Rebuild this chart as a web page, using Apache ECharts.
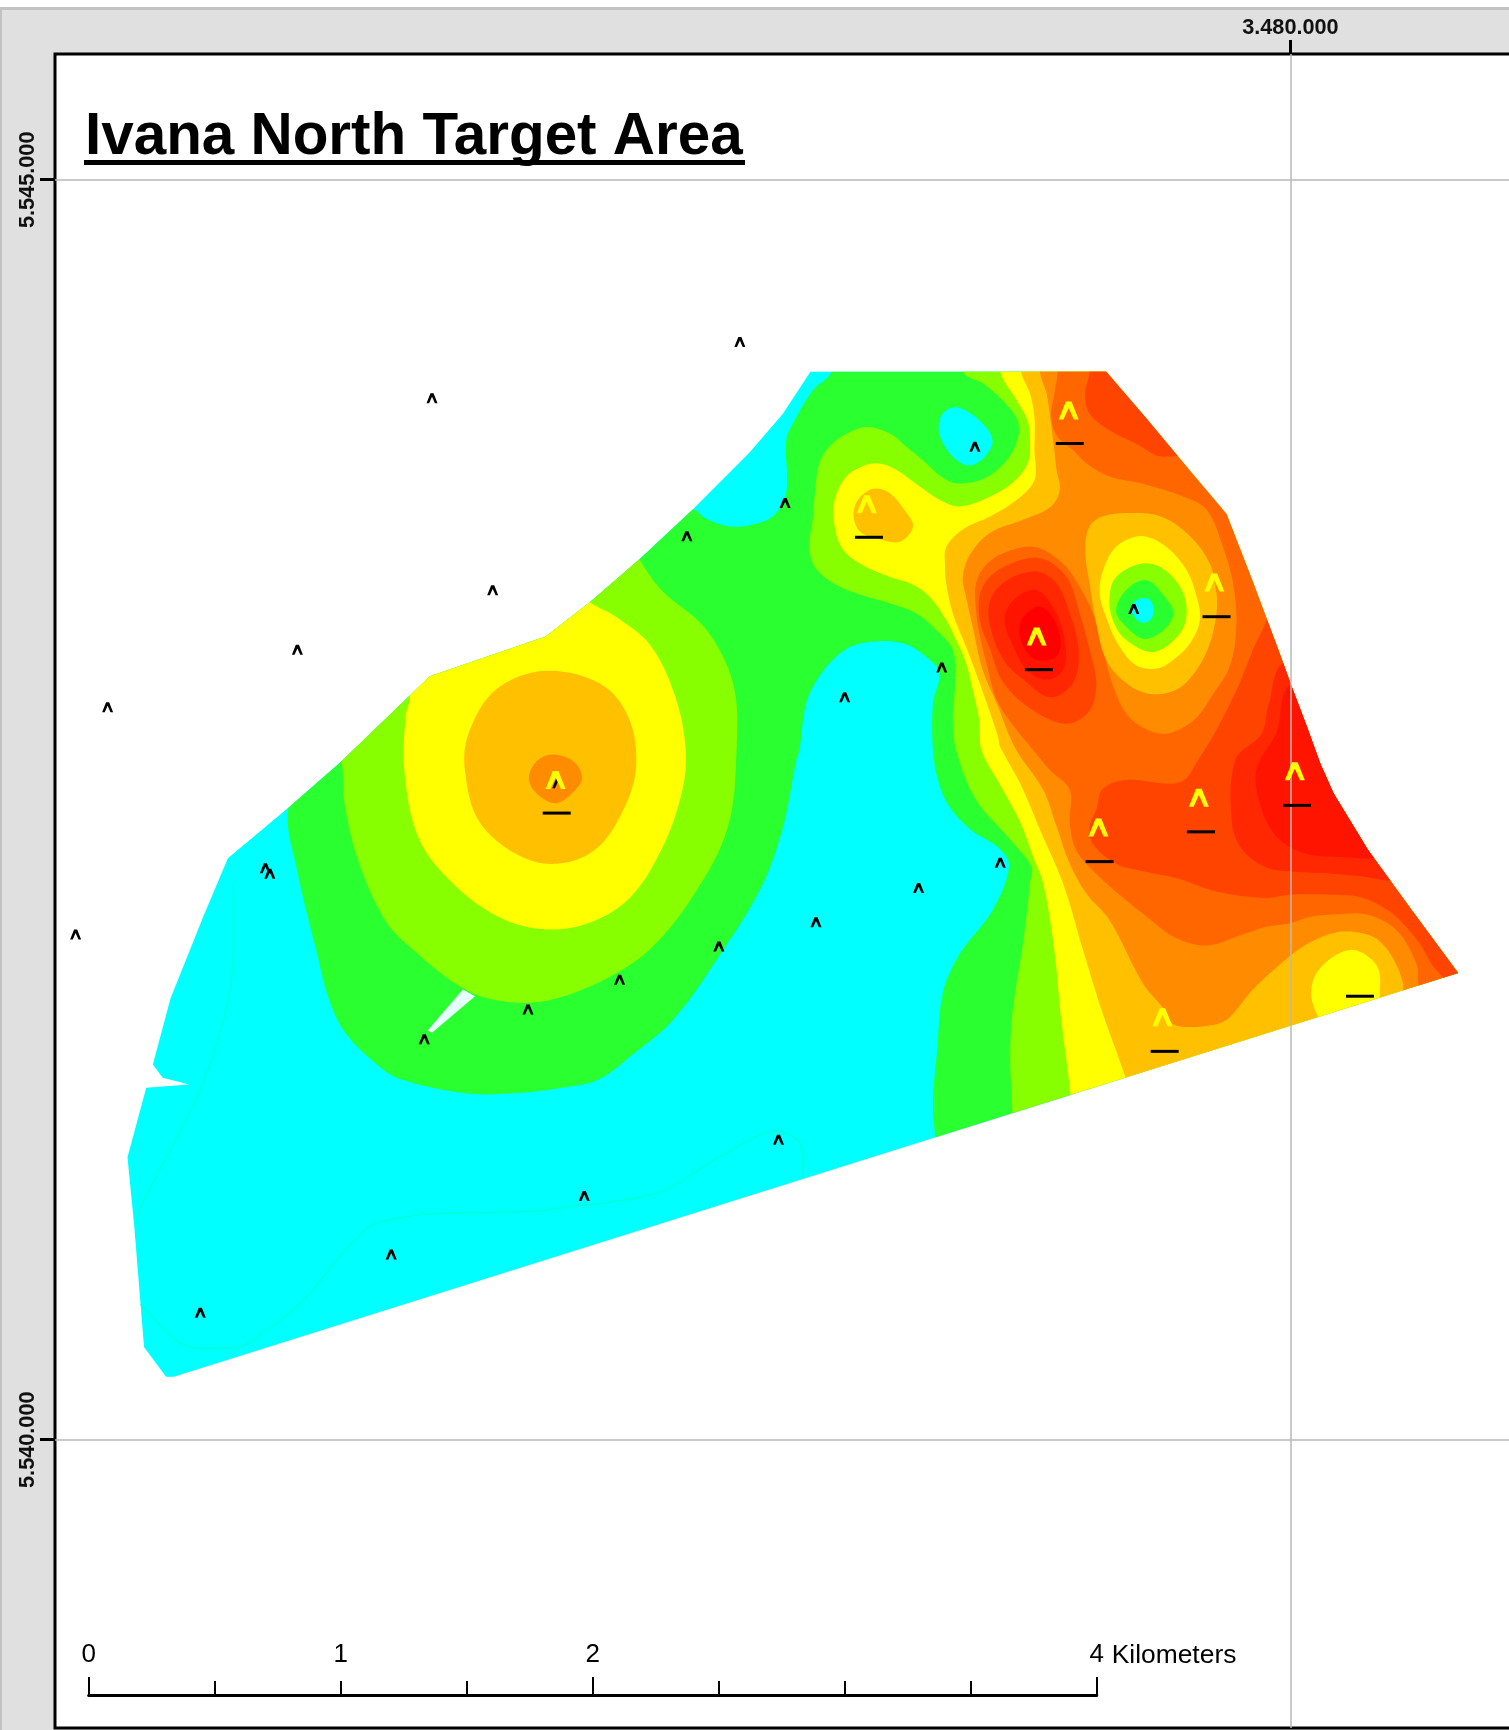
<!DOCTYPE html>
<html><head><meta charset="utf-8">
<script src="https://cdn.jsdelivr.net/npm/echarts@6/dist/echarts.min.js"></script>
<style>
html,body{margin:0;padding:0;background:#fff;width:1509px;height:1730px;overflow:hidden}
#back{position:absolute;left:0;top:7px;width:1507px;height:1720px;background:#e0e0e0;border-top:3px solid #c2c2c2;border-left:2px solid #c2c2c2}
#chart{position:absolute;left:0;top:0;width:1509px;height:1730px}
</style></head><body><div id="back"></div><div id="chart"></div>
<script>
// Digitised map: [column,row] in raster cells of 4.378 m, georeferenced below.
const CELL_M = 4.378, REF_COL = 1170, REF_ROW = 1305, REF_E = 3480000, REF_N = 5540000;
const eastTicks = [3480000];
const northTicks = [5540000, 5545000];
const scaleTicks = [0, 1, 2, 4];

const boundary = [[735,337],[1003,337],[1040,380],[1080,428],[1112,466],[1135,525],[1159,589],[1171,622],[1185,659],[1197,692],[1209,719],[1240,770],[1280,825],[1322,882],[158,1248],[151,1248],[131,1221],[122,1110],[116,1049],[133,986],[172,983],[148,977],[139,965],[155,905],[185,830],[207,778],[262,732],[310,690],[390,613],[495,577],[535,546],[580,507],[628,462],[680,410],[710,375]];
const greenArea = [[754,300],[754,337],[737,354],[719,384],[713,399],[713,447],[701,468],[680,476],[660,477],[640,470],[628,462],[560,480],[480,540],[380,590],[290,680],[262,732],[270,790],[287,861],[299,907],[314,937],[341,964],[363,978],[423,991],[465,991],[510,986],[544,978],[575,955],[610,925],[650,870],[690,805],[710,750],[722,690],[725,680],[731,638],[743,613],[762,592],[781,583],[819,583],[843,598],[852,610],[846,638],[846,680],[850,705],[860,730],[880,752],[905,768],[915,785],[900,825],[870,865],[855,900],[850,950],[846,1000],[848,1032],[848,1060],[1400,950],[1400,300]];
const limeWest = [[310,690],[313,730],[325,780],[350,835],[375,861],[417,894],[447,906],[490,908],[544,890],[590,860],[630,810],[660,750],[668,680],[665,620],[640,570],[600,535],[580,507],[560,470],[380,580],[300,660]];
const limeEast = [[873,300],[873,337],[892,348],[913,367],[923,382],[923,397],[913,417],[892,434],[867,438],[852,431],[840,420],[822,405],[807,393],[786,387],[768,393],[752,405],[743,420],[739,447],[737,471],[734,496],[739,514],[756,529],[777,538],[807,547],[831,556],[849,571],[864,589],[866,620],[864,650],[867,680],[885,725],[915,760],[935,785],[934,800],[928,852],[918,918],[916,960],[918,1010],[918,1060],[1400,950],[1400,300]];
const yellowWest = [[372,632],[368,650],[367,700],[380,760],[410,800],[450,830],[490,842],[530,838],[570,815],[600,770],[618,720],[622,680],[612,630],[590,585],[560,560],[535,546],[500,520],[370,590]];
const yellowEast = [[907,300],[907,337],[922,363],[932,382],[934,402],[932,420],[919,437],[898,450],[870,459],[852,453],[834,441],[813,426],[795,420],[777,425],[765,435],[757,453],[756,471],[763,496],[780,511],[807,523],[828,530],[843,541],[858,562],[867,580],[876,601],[882,625],[888,653],[890,680],[906,710],[925,745],[937,777],[946,801],[956,861],[962,922],[971,994],[975,1040],[1400,950],[1400,300]];
const amberWest = [[495,608],[450,625],[425,665],[422,700],[435,745],[470,775],[505,783],[540,770],[565,735],[577,695],[570,650],[545,620]];
const amberNorth = [[792,443],[778,453],[774,468],[780,482],[795,488],[816,491],[828,477],[820,462],[807,447]];
const amberEast = [[926,300],[926,337],[934,357],[938,378],[938,408],[938,435],[922,453],[898,468],[873,480],[858,496],[857,514],[858,529],[864,556],[876,586],[885,610],[895,638],[905,668],[907,677],[925,710],[943,752],[964,801],[982,861],[1000,919],[1021,978],[1030,1010],[1400,950],[1400,300]];
const orangeWest = [[500,684],[485,692],[480,708],[490,722],[505,728],[520,718],[528,705],[520,690]];
const orangeEast = [[943,300],[943,337],[949,357],[953,384],[956,408],[958,426],[961,444],[953,459],[928,471],[898,483],[880,502],[873,523],[876,541],[882,568],[891,607],[904,638],[920,677],[946,716],[958,749],[970,783],[985,810],[1006,834],[1036,891],[1055,914],[1065,929],[1100,929],[1115,922],[1136,897],[1169,867],[1188,854],[1212,845],[1230,845],[1248,851],[1262,867],[1272,891],[1271,904],[1272,935],[1500,935],[1500,300]];
const deepOrangeEast = [[959,300],[959,337],[956,357],[953,378],[959,396],[973,408],[985,420],[1006,432],[1034,438],[1070,449],[1094,462],[1109,496],[1118,529],[1121,568],[1115,604],[1100,629],[1082,653],[1055,665],[1027,653],[1012,629],[1000,589],[991,556],[979,532],[964,511],[940,496],[916,499],[895,511],[885,529],[885,553],[888,574],[896,607],[904,635],[922,662],[937,680],[952,698],[970,716],[970,746],[976,771],[994,792],[1021,816],[1040,831],[1064,849],[1094,857],[1124,848],[1148,840],[1169,837],[1188,831],[1209,829],[1239,829],[1266,843],[1284,873],[1286,892],[1290,910],[1500,910],[1500,300]];
const ringAmber = [[988,477],[1000,468],[1021,465],[1052,468],[1079,486],[1097,511],[1103,538],[1103,556],[1097,583],[1085,607],[1067,625],[1043,629],[1021,619],[1003,598],[994,565],[988,529],[984,499]];
const ringYellow = [[1005,505],[1018,491],[1037,486],[1058,496],[1076,517],[1085,541],[1088,562],[1079,583],[1064,598],[1049,606],[1030,603],[1015,586],[1005,565],[997,535]];
const ringLime = [[1012,523],[1034,511],[1052,514],[1070,532],[1076,553],[1070,574],[1046,591],[1021,580],[1009,562],[1006,541]];
const ringGreen = [[1023,533],[1040,526],[1056,541],[1064,556],[1055,571],[1038,579],[1021,568],[1012,553]];
const ringCyan = [[1037,542],[1029,545],[1026,554],[1034,564],[1043,562],[1046,553],[1043,544]];
const northCyan = [[867,369],[854,376],[852,394],[864,414],[879,422],[893,414],[900,399],[888,381]];
const sliver = [[420,897],[431,903],[392,936],[388,934]];
const redOrangeNorth = [[988,300],[988,337],[984,357],[988,375],[1006,390],[1030,402],[1055,414],[1100,400],[1100,300]];
const redOrangeHot = [[943,506],[910,514],[891,532],[888,559],[898,589],[910,619],[937,644],[967,656],[988,644],[994,619],[988,589],[979,556],[967,523]];
const scarletHot = [[940,518],[913,526],[898,544],[898,568],[910,598],[928,616],[952,632],[973,619],[978,589],[970,556],[958,529]];
const vermilionHot = [[940,535],[919,544],[911,562],[919,586],[931,607],[949,616],[964,607],[966,583],[958,556]];
const redHot = [[940,550],[925,565],[928,586],[940,598],[958,595],[961,577],[952,556]];
const redOrangeSouth = [[1150,500],[1150,555],[1136,589],[1124,619],[1106,656],[1088,686],[1070,709],[1021,707],[1000,715],[994,734],[988,749],[991,765],[1012,783],[1033,789],[1067,796],[1103,808],[1148,814],[1169,811],[1209,811],[1233,813],[1248,819],[1266,831],[1287,855],[1302,879],[1330,900],[1500,900],[1500,500]];
const scarletSouth = [[1300,600],[1166,600],[1150,640],[1144,665],[1120,689],[1117,746],[1127,771],[1148,786],[1172,790],[1209,792],[1239,795],[1260,798],[1300,790]];
const vermilionSouth = [[1300,620],[1172,620],[1157,665],[1139,698],[1144,734],[1160,761],[1185,774],[1221,777],[1242,778],[1300,770]];
const yellowSouth = [[1224,861],[1206,869],[1192,885],[1189,904],[1195,922],[1200,935],[1250,920],[1251,904],[1250,879],[1239,866]];

const fills = [
  [boundary,'#00ffff'],[greenArea,'#2aff30'],[northCyan,'#00ffff'],
  [limeWest,'#88ff00'],[limeEast,'#88ff00'],[yellowWest,'#ffff00'],[yellowEast,'#ffff00'],
  [amberWest,'#ffc000'],[amberNorth,'#ffc000'],[amberEast,'#ffc000'],[orangeWest,'#ff8c00'],
  [orangeEast,'#ff8c00'],[yellowSouth,'#ffff00'],[deepOrangeEast,'#ff6600'],
  [ringAmber,'#ffc000'],[ringYellow,'#ffff00'],[ringLime,'#88ff00'],[ringGreen,'#2aff30'],[ringCyan,'#00ffff'],
  [redOrangeNorth,'#ff4400'],[redOrangeSouth,'#ff4400'],[scarletSouth,'#ff2800'],[vermilionSouth,'#ff1400'],
  [redOrangeHot,'#ff4400'],[scarletHot,'#ff2800'],[vermilionHot,'#ff1400'],[redHot,'#ff0000'],[sliver,'#e6ffff']
];
const faintLineA = [[212,800],[212,861],[207,907],[193,958],[175,1003],[151,1049],[128,1094],[124,1109]];
const faintLineB = [[128,1182],[160,1215],[181,1222],[212,1222],[242,1206],[278,1176],[308,1139],[335,1112],[357,1105],[393,1100],[484,1098],[514,1094],[544,1091],[600,1080],[650,1050],[705,1025],[727,1040],[728,1068]];

const blackPeaks = [[671,310],[392,361],[884,405],[712,456],[623,486],[447,535],[1028,552],[270,589],[854,605],[98,641],[766,632],[506,710],[241,787],[245,792],[907,782],[833,805],[740,836],[652,858],[69,847],[562,888],[479,915],[385,942],[706,1033],[530,1084],[355,1137],[182,1190]];
const yellowPeaks = [[969,372],[786,457],[1101,528],[940,577],[504,707],[1174,699],[1087,723],[996,750],[1054,922]];
const dashes = [[970,402],[788,487],[1103,559],[942,607],[505,737],[1176,730],[1089,754],[997,781],[1056,953],[1233,903]];

const toMap = ([c,r]) => [REF_E + (c-REF_COL)*CELL_M, REF_N + (REF_ROW-r)*CELL_M];
const dotted = v => String(v).replace(/\B(?=(\d{3})+(?!\d))/g,'.');
const FONT = '"Liberation Sans", Arial, sans-serif';
const chevron = 'path://M0 10 L3.6 0 L6.4 0 L10 10 L7.6 10 L5 3.6 L2.4 10 Z';

const chart = echarts.init(document.getElementById('chart'), null, {renderer:'canvas'});
const clipPoints = api => boundary.map(p => api.coord(toMap(p)));
chart.setOption({
  animation:false,
  backgroundColor:'transparent',
  title:{text:'Ivana North Target Area',left:80,top:104,textStyle:{fontFamily:FONT,fontWeight:'bold',fontSize:58.4,color:'#000'}},
  graphic:[{type:'rect',shape:{x:84,y:160,width:661,height:5},style:{fill:'#000'},z:20}],
  grid:[
    {left:55,top:54,width:1460,height:1674,show:true,backgroundColor:'#fff',borderColor:'#000',borderWidth:3,outerBoundsMode:'none'},
    {left:88.7,top:1685,width:1008,height:10,outerBoundsMode:'none'}
  ],
  xAxis:[
    {gridIndex:0,type:'value',position:'top',min:3475098,max:3480891,z:3,
     axisLine:{show:false},
     axisTick:{show:true,customValues:eastTicks,length:14,lineStyle:{color:'#000',width:3}},
     axisLabel:{show:true,customValues:eastTicks,margin:15,formatter:dotted,fontFamily:FONT,fontWeight:'bold',fontSize:21.7,color:'#111'},
     splitLine:{show:true,lineStyle:{color:'#b9b9b9',width:1.5}}},
    {gridIndex:1,type:'value',position:'bottom',min:0,max:4,interval:2,
     name:'{k|Kilometers}',nameLocation:'end',nameGap:15,
     nameTextStyle:{fontFamily:FONT,fontSize:26.4,color:'#000',verticalAlign:'bottom',rich:{k:{fontFamily:FONT,fontSize:26.4,color:'#000',padding:[0,0,26,0]}}},
     axisLine:{show:true,lineStyle:{color:'#000',width:3}},
     axisTick:{show:true,inside:true,length:18,lineStyle:{color:'#000',width:2}},
     minorTick:{show:true,splitNumber:4,length:14,lineStyle:{color:'#000',width:2}},
     axisLabel:{show:true,inside:true,customValues:scaleTicks,margin:27,fontFamily:FONT,fontSize:26,color:'#000'},
     splitLine:{show:false},minorSplitLine:{show:false}}
  ],
  yAxis:[
    {gridIndex:0,type:'value',min:5538856,max:5545499,z:3,
     axisLine:{show:false},
     axisTick:{show:true,customValues:northTicks,length:15,lineStyle:{color:'#000',width:3}},
     axisLabel:{show:true,customValues:northTicks,rotate:90,margin:16,formatter:dotted,fontFamily:FONT,fontWeight:'bold',fontSize:21.7,color:'#111'},
     splitLine:{show:true,lineStyle:{color:'#b9b9b9',width:1.5}}},
    {gridIndex:1,type:'value',show:false,min:0,max:1}
  ],
  series:[
    {type:'custom',xAxisIndex:0,yAxisIndex:0,z:2,silent:true,clip:false,
     data:fills.map((f,i)=>[i]),
     encode:{x:-1,y:-1},
     renderItem:(params,api)=>{
       const [pts,color] = fills[api.value(0)];
       const first = pts===boundary;
       return {type:'polygon',
         shape:{points:pts.map(p=>api.coord(toMap(p))),smooth:(first||pts===sliver)?0:0.35},
         style:{fill:color,stroke:null},
         clipPath: first?undefined:{type:'polygon',shape:{points:clipPoints(api)}}};
     }},
    {type:'line',xAxisIndex:0,yAxisIndex:0,z:2.5,silent:true,showSymbol:false,smooth:0.3,data:faintLineA.map(toMap),lineStyle:{color:'#00ffd8',width:1.5}},
    {type:'line',xAxisIndex:0,yAxisIndex:0,z:2.5,silent:true,showSymbol:false,smooth:0.3,data:faintLineB.map(toMap),lineStyle:{color:'#00ffd8',width:1.5}},
    {type:'scatter',xAxisIndex:0,yAxisIndex:0,z:5,silent:true,symbol:'rect',symbolSize:[28,3],data:dashes.map(toMap),itemStyle:{color:'#000',opacity:1}},
    {type:'scatter',xAxisIndex:0,yAxisIndex:0,z:5,silent:true,symbol:chevron,symbolKeepAspect:false,symbolSize:[11,10],data:blackPeaks.map(toMap),itemStyle:{color:'#000',opacity:1}},
    {type:'scatter',xAxisIndex:0,yAxisIndex:0,z:6,silent:true,symbol:chevron,symbolKeepAspect:false,symbolSize:[20,18],data:yellowPeaks.map(toMap),itemStyle:{color:'#ffff00',opacity:1}}
  ]
});
</script></body></html>
